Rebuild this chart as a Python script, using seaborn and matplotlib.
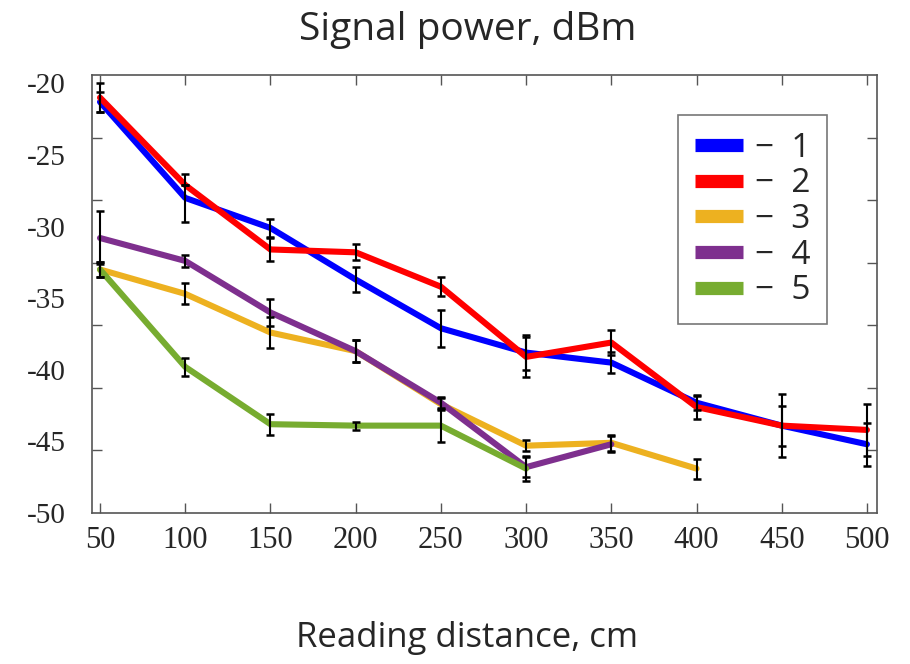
import numpy as np
import pandas as pd
import matplotlib
matplotlib.use("Agg")
import matplotlib.pyplot as plt
import seaborn as sns
from matplotlib.lines import Line2D

# ---------------- data ----------------
distance = [50, 100, 150, 200, 250, 300, 350, 400, 450, 500]

s1 = [-21.3, -28.0, -30.1, -33.7, -37.1, -38.8, -39.5, -42.3, -43.9, -45.2]
s2 = [-21.0, -27.1, -31.6, -31.8, -34.2, -39.1, -38.1, -42.6, -43.9, -44.2]
s3 = [-33.0, -34.7, -37.4, -38.7, -42.4, -45.3, -45.1, -46.9]
s4 = [-30.8, -32.4, -36.0, -38.7, -42.3, -46.8, -45.2]
s5 = [-33.0, -39.8, -43.8, -43.9, -43.9, -46.9]

e1 = [0.7, 1.65, 0.65, 0.85, 1.3, 1.2, 0.75, 0.5, 2.2, 1.5]
e2 = [1.0, 0.0, 0.8, 0.55, 0.65, 1.4, 0.9, 0.85, 1.4, 1.8]
e3 = [0.5, 0.73, 1.07, 0.75, 0.4, 0.4, 0.55, 0.7]
e4 = [1.85, 0.4, 0.95, 0.75, 0.4, 0.7, 0.55]
e5 = [0.5, 0.63, 0.73, 0.28, 1.15, 0.85]

series_names = ["1", "2", "3", "4", "5"]
series_vals = [s1, s2, s3, s4, s5]
series_errs = [e1, e2, e3, e4, e5]
colors = ["#0000FF", "#FF0000", "#EDB120", "#7E2F8E", "#77AC30"]

y_ticks = [-20, -25, -30, -35, -40, -45, -50]
x_ticks = [50, 100, 150, 200, 250, 300, 350, 400, 450, 500]

title = "Signal power, dBm"
xlabel = "Reading distance, cm"

# --------------- frame ---------------
rows = []
for name, vals, errs in zip(series_names, series_vals, series_errs):
    for d, v, e in zip(distance, vals, errs):
        rows.append({"distance": d, "power": v, "err": e, "series": name})
df = pd.DataFrame(rows)

sns.set_theme(style="white")
plt.rcParams["font.family"] = ["DejaVu Sans"]

fig = plt.figure(figsize=(9.1, 6.64), dpi=100)
ax = fig.add_axes([92 / 910, 1 - 513 / 664, (877 - 92) / 910, (513 - 75) / 664])

palette = dict(zip(series_names, colors))
sns.lineplot(data=df, x="distance", y="power", hue="series", hue_order=series_names,
             palette=palette, linewidth=4.4, ax=ax, legend=False, sort=False,
             estimator=None)

for name in series_names:
    sub = df[df["series"] == name]
    ax.errorbar(sub["distance"], sub["power"], yerr=sub["err"], fmt="none",
                ecolor="black", elinewidth=1.5, capsize=3, capthick=1.8, zorder=5)

ax.set_xlim(45.3, 505.9)
ax.set_ylim(-50, -19.42)

serif = ["Liberation Serif", "DejaVu Serif"]
ax.set_xticks(x_ticks)
ax.set_xticklabels([str(t) for t in x_ticks], fontfamily=serif, fontsize=22)
ax.set_yticks(y_ticks)
ax.set_yticklabels([str(t) for t in y_ticks], fontfamily=serif, fontsize=21)
ax.set_yticks(np.linspace(-50, -19.42, 8)[1:-1], minor=True)

ax.tick_params(axis="x", which="major", direction="in", length=7, width=1,
               color="#555555", top=True, bottom=True, pad=9)
ax.tick_params(axis="y", which="major", length=0, pad=19)
ax.tick_params(axis="y", which="minor", direction="in", length=7, width=1,
               color="#555555", left=True, right=True)

for sp in ax.spines.values():
    sp.set_color("#555555")
    sp.set_linewidth(1.2)

ax.set_xlabel("")
ax.set_ylabel("")

sans = ["Open Sans", "DejaVu Sans"]
fig.text(468 / 910, 1 - 30 / 664, title, ha="center", va="center",
         fontsize=28, family=sans)
fig.text(467 / 910, 1 - 638 / 664, xlabel, ha="center", va="center",
         fontsize=25, family=sans)

handles = [Line2D([0], [0], color=c, linewidth=9.5, solid_capstyle="butt") for c in colors]
labels = ["\u2212  " + n for n in series_names]
leg = ax.legend(handles, labels, loc="upper left",
                bbox_to_anchor=((678 - 92) / 785, 1 - (115 - 75) / 438),
                prop={"family": sans, "size": 24}, frameon=True, fancybox=False,
                handlelength=1.45, handletextpad=0.35, labelspacing=0.08,
                borderpad=0.5, borderaxespad=0)
leg.get_frame().set_edgecolor("#555555")
leg.get_frame().set_linewidth(1.2)

fig.savefig("out.png", dpi=100)
